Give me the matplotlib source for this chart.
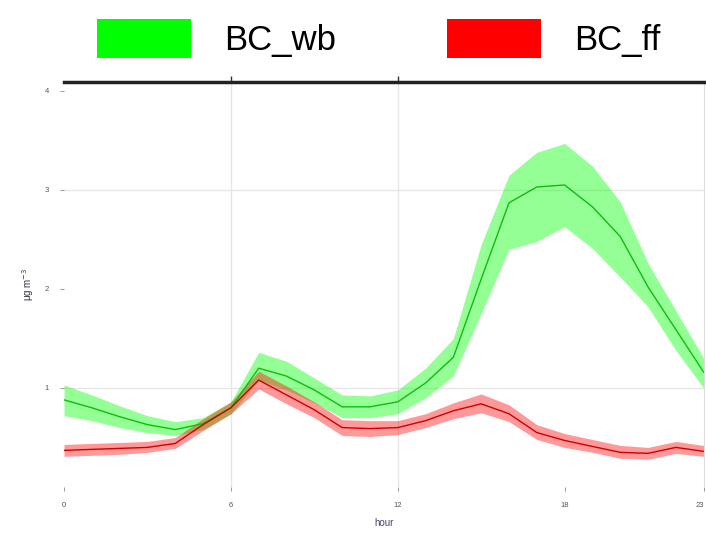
import matplotlib
matplotlib.use("Agg")
import matplotlib.pyplot as plt
from matplotlib.patches import Patch
import numpy as np

plt.rcParams["font.family"] = ["Liberation Sans", "DejaVu Sans"]

hours = np.arange(24)

# wood burning BC: hourly mean and confidence band (ug m-3)
bc_wb = [0.88, 0.80, 0.71, 0.63, 0.58, 0.64, 0.80, 1.20, 1.12, 0.98, 0.81, 0.81,
         0.86, 1.05, 1.31, 2.10, 2.87, 3.03, 3.05, 2.83, 2.53, 2.02, 1.59, 1.16]
bc_wb_hi = [1.03, 0.93, 0.82, 0.72, 0.66, 0.70, 0.86, 1.36, 1.27, 1.10, 0.93, 0.92,
            0.98, 1.20, 1.50, 2.45, 3.15, 3.38, 3.47, 3.24, 2.88, 2.26, 1.78, 1.30]
bc_wb_lo = [0.72, 0.67, 0.60, 0.55, 0.52, 0.58, 0.74, 1.08, 0.98, 0.85, 0.70, 0.70,
            0.74, 0.90, 1.12, 1.75, 2.40, 2.48, 2.63, 2.41, 2.12, 1.82, 1.38, 1.00]

# fossil fuel BC
bc_ff = [0.37, 0.38, 0.39, 0.40, 0.44, 0.63, 0.80, 1.08, 0.93, 0.78, 0.60, 0.59,
         0.60, 0.67, 0.77, 0.84, 0.74, 0.55, 0.47, 0.41, 0.35, 0.34, 0.40, 0.36]
bc_ff_hi = [0.43, 0.44, 0.45, 0.46, 0.50, 0.69, 0.86, 1.17, 1.02, 0.86, 0.68, 0.67,
            0.67, 0.74, 0.85, 0.94, 0.83, 0.63, 0.54, 0.48, 0.42, 0.40, 0.46, 0.42]
bc_ff_lo = [0.31, 0.32, 0.33, 0.35, 0.39, 0.57, 0.74, 0.99, 0.84, 0.70, 0.52, 0.51,
            0.53, 0.60, 0.69, 0.75, 0.66, 0.48, 0.40, 0.35, 0.29, 0.28, 0.34, 0.31]

x_ticks = [0, 6, 12, 18, 23]
y_ticks = [1, 2, 3, 4]

fig = plt.figure(figsize=(7.06, 5.35), dpi=100)
ax = fig.add_axes([0.0907, 0.0897, 0.906, 0.757])

ax.fill_between(hours, bc_wb_lo, bc_wb_hi, color="#00ff00", alpha=0.42, lw=0)
ax.plot(hours, bc_wb, color="#11bb11", lw=1.0)
ax.fill_between(hours, bc_ff_lo, bc_ff_hi, color="#ff0000", alpha=0.40, lw=0)
ax.plot(hours, bc_ff, color="#cc0000", lw=1.0)

ax.set_xlim(0, 23)
ax.set_ylim(0, 4.09)
ax.set_xticks(x_ticks)
ax.set_yticks(y_ticks)
ax.tick_params(labelsize=5.5, labelcolor="#555555", colors="#888888",
               length=3, width=0.6, pad=8)
# keep the last hour label inside the figure
ax.get_xticklabels()[-1].set_horizontalalignment("right")

# sparse light grid
for gx in [6, 12]:
    ax.axvline(gx, color="#e6e6e6", lw=1.0, zorder=0)
for gy in [1, 3]:
    ax.axhline(gy, color="#e6e6e6", lw=1.0, zorder=0)

for side in ["left", "bottom"]:
    ax.spines[side].set_visible(False)
ax.spines["right"].set_color("#dddddd")
ax.spines["right"].set_linewidth(0.8)
ax.spines["top"].set_color("#222222")
ax.spines["top"].set_linewidth(2.5)

top = ax.secondary_xaxis("top")
top.set_xticks([6, 12])
top.tick_params(labelsize=0, length=4, width=1, colors="#333333")
top.set_xticklabels([])
top.spines["top"].set_visible(False)

ax.set_xlabel("hour", fontsize=7, color="#444466", labelpad=6)
ax.set_ylabel("\u03bcg m$^{-3}$", fontsize=7, color="#333344", labelpad=6)

handles = [Patch(facecolor="#00ff00", edgecolor="none"),
           Patch(facecolor="#ff0000", edgecolor="none")]
fig.legend(handles, ["BC_wb", "BC_ff"], loc="upper left",
           bbox_to_anchor=(0.108, 1.004), ncol=2, frameon=False, fontsize=25,
           handlelength=2.7, handleheight=1.35, handletextpad=0.95,
           columnspacing=3.2, borderaxespad=0.4, borderpad=0.2)

fig.savefig("out.png", dpi=100)
